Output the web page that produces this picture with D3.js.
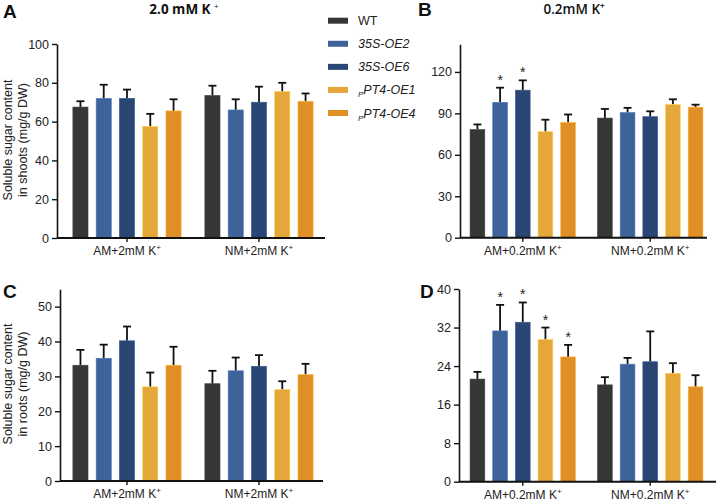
<!DOCTYPE html>
<html><head><meta charset="utf-8">
<script src="https://cdn.jsdelivr.net/npm/d3@7"></script>
<style>body{margin:0;background:#fff}svg{display:block;font-family:"Liberation Sans",Arial,sans-serif}</style>
</head><body><svg id="c" width="717" height="503"></svg>
<script>
const series = ["WT","35S-OE2","35S-OE6","PT4-OE1","PT4-OE4"];
const colors = ["#363636","#3d6399","#2a4675","#e6a73a","#df8f26"];
const groupsA = ["AM+2mM K","NM+2mM K"];
const groupsB = ["AM+0.2mM K","NM+0.2mM K"];
// panel A: shoots, 2.0 mM K+
const meanA = [[67.5,72,72,57.5,65.5],[73.5,66,70,75.5,70.5]];
const errA  = [[70.5,79,76.5,64,71.5],[78.5,71.5,78,80,74.5]];
const sigA  = [[0,0,0,0,0],[0,0,0,0,0]];
const ticksA = [0,20,40,60,80,100];
// panel B: shoots, 0.2 mM K+
const meanB = [[78.3,98,106.8,76.7,83.5],[86.6,90.6,87.6,96.4,94.5]];
const errB  = [[82,108.6,113.9,85.4,89.2],[93.2,94,91.5,100.2,96.3]];
const sigB  = [[0,1,1,0,0],[0,0,0,0,0]];
const ticksB = [0,30,60,90,120];
// panel C: roots, 2.0 mM K+
const meanC = [[33.2,35.2,40.2,27.0,33.2],[27.9,31.6,32.9,26.2,30.5]];
const errC  = [[37.6,39.1,44.3,31.1,38.5],[31.6,35.4,36.1,28.6,33.6]];
const sigC  = [[0,0,0,0,0],[0,0,0,0,0]];
const ticksC = [0,10,20,30,40,50];
// panel D: roots, 0.2 mM K+
const meanD = [[21.3,31.3,33.1,29.5,25.9],[20.1,24.4,24.9,22.5,19.7]];
const errD  = [[22.8,36.7,37.2,32.0,28.4],[21.7,25.7,31.2,24.6,22.1]];
const sigD  = [[0,1,1,1,1],[0,0,0,0,0]];
const ticksD = [0,8,16,24,32,40];

const svg = d3.select("#c");

function panel(o){
  const y = d3.scaleLinear().domain([0,o.ymax]).range([o.y0,o.y1]);
  const xg = d3.scaleBand().domain(o.groups).range([o.bx0,o.bx1]).paddingInner(o.pi).paddingOuter(o.po);
  const xs = d3.scaleBand().domain(series).range([0,xg.bandwidth()]).paddingInner(0.35);
  const g = svg.append("g");
  o.groups.forEach((grp,gi)=>{
    series.forEach((s,si)=>{
      const x = xg(grp)+xs(s), w = xs.bandwidth(), cx = x+w/2;
      const v = o.mean[gi][si], e = o.err[gi][si];
      g.append("line").attr("x1",cx).attr("x2",cx).attr("y1",y(v)).attr("y2",y(e)).attr("stroke","#111").attr("stroke-width",1.8);
      g.append("line").attr("x1",cx-4).attr("x2",cx+4).attr("y1",y(e)).attr("y2",y(e)).attr("stroke","#111").attr("stroke-width",1.8);
      g.append("rect").attr("x",x).attr("y",y(v)).attr("width",w).attr("height",y(0)-y(v))
        .attr("fill",colors[si]).attr("stroke", d3.color(colors[si]).brighter(0.6)).attr("stroke-width",0.6);
      if(o.sig[gi][si]) g.append("text").attr("x",cx).attr("y",y(e)-3).attr("text-anchor","middle")
        .attr("font-size",14).attr("fill","#222").text("*");
    });
  });
  const ya = d3.axisLeft(y).tickValues(o.ticks).tickSize(5).tickPadding(3).tickSizeOuter(0);
  const yg = g.append("g").attr("transform",`translate(${o.ax},0)`).call(ya);
  yg.select(".domain").attr("stroke","#111").attr("stroke-width",1.6);
  yg.selectAll(".tick line").attr("stroke","#111").attr("stroke-width",1.4);
  yg.selectAll(".tick text").attr("font-size",12.5).attr("fill","#222").attr("font-family","Liberation Sans, Arial, sans-serif");
  const xa = d3.axisBottom(xg).tickSize(4).tickSizeOuter(0).tickFormat(()=>"");
  const xgx = g.append("g").attr("transform",`translate(0,${o.y0})`).call(xa);
  xgx.select(".domain").attr("d",`M${o.ax},0H${o.axEnd}`).attr("stroke","#111").attr("stroke-width",2);
  xgx.selectAll(".tick line").attr("stroke","#111").attr("stroke-width",1.4);
  o.groups.forEach(grp=>{
    const t = g.append("text").attr("x",xg(grp)+xg.bandwidth()/2).attr("y",o.y0+17).attr("text-anchor","middle")
      .attr("font-size",12).attr("fill","#222");
    t.append("tspan").text(grp);
    t.append("tspan").attr("font-size",8).attr("dy",-5).text("+");
  });
}

panel({groups:groupsA,mean:meanA,err:errA,sig:sigA,ticks:ticksA,ymax:100,y0:238,y1:44,bx0:61,bx1:325,pi:0.18,po:0.09,ax:57,axEnd:325});
panel({groups:groupsB,mean:meanB,err:errB,sig:sigB,ticks:ticksB,ymax:140,y0:237.7,y1:44.3,bx0:460,bx1:713,pi:0.173,po:0.079,ax:460,axEnd:707});
panel({groups:groupsA,mean:meanC,err:errC,sig:sigC,ticks:ticksC,ymax:55,y0:481,y1:289.2,bx0:61,bx1:325,pi:0.18,po:0.09,ax:60,axEnd:323});
panel({groups:groupsB,mean:meanD,err:errD,sig:sigD,ticks:ticksD,ymax:40,y0:481.7,y1:289,bx0:460,bx1:713,pi:0.173,po:0.079,ax:459,axEnd:716});

[["A",3,18],["B",418,16],["C",3,298],["D",420,298]].forEach(([t,x,y])=>
  svg.append("text").attr("x",x).attr("y",y).attr("font-size",19).attr("font-weight","bold").attr("fill","#111").text(t));

const t1 = svg.append("text").attr("x",184).attr("y",14).attr("text-anchor","middle").attr("font-family","Open Sans").attr("font-size",13.5).attr("font-weight",700).attr("fill","#111");
t1.append("tspan").text("2.0 mM K ");
t1.append("tspan").attr("font-size",8).attr("font-weight","normal").attr("dy",-5).text("+");
const t2 = svg.append("text").attr("x",574).attr("y",14).attr("text-anchor","middle").attr("font-family","Open Sans").attr("font-size",13.5).attr("font-weight",600).attr("fill","#111");
t2.append("tspan").text("0.2mM K");
t2.append("tspan").attr("font-size",8).attr("dy",-5).text("+");

function ytitle(cy, l1, l2){
  const g = svg.append("g").attr("transform",`translate(12,${cy}) rotate(-90)`);
  g.append("text").attr("x",0).attr("y",0).attr("text-anchor","middle").attr("font-size",12.5).attr("fill","#222").text(l1);
  g.append("text").attr("x",0).attr("y",15).attr("text-anchor","middle").attr("font-size",12.5).attr("fill","#222").text(l2);
}
ytitle(140,"Soluble sugar content","in shoots (mg/g DW)");
ytitle(384,"Soluble sugar content","in roots (mg/g DW)");

const ly = d3.scalePoint().domain(series).range([20.7,113]);
series.forEach((s,i)=>{
  svg.append("rect").attr("x",328).attr("y",ly(s)-3).attr("width",20).attr("height",6).attr("fill",colors[i]);
  const t = svg.append("text").attr("x",358).attr("y",ly(s)+4.5).attr("font-size",12.5).attr("fill","#222");
  if(i===0){ t.text(s); }
  else if(i<3){ t.attr("font-style","italic").text(s); }
  else {
    t.attr("font-style","italic");
    t.append("tspan").attr("font-size",8).attr("dy",3).text("P");
    t.append("tspan").attr("dy",-3).text(s);
  }
});
</script></body></html>
